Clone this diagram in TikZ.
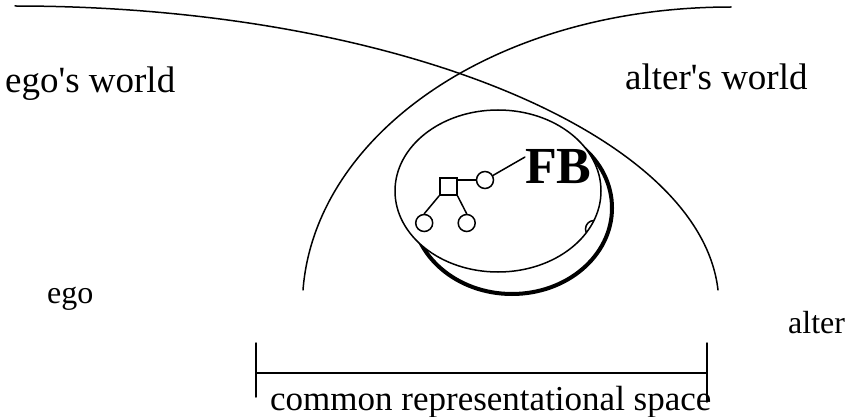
\documentclass[tikz,border=0pt]{standalone}
\usepackage{fontspec}
\setmainfont{Liberation Serif}
\begin{document}
\begin{tikzpicture}[x=1pt,y=-1pt,
  line/.style={line width=1.5pt, line cap=round},
  worldlabel/.style={font=\fontsize{37}{40}\selectfont, inner sep=0pt, anchor=base west},
  personlabel/.style={font=\fontsize{32}{36}\selectfont, inner sep=0pt, anchor=base west},
  spacelabel/.style={font=\fontsize{35}{38}\selectfont, inner sep=0pt, anchor=base west},
  male/.style={draw, line width=1.5pt, rectangle, minimum size=17pt, inner sep=0pt},
  female/.style={draw, line width=1.5pt, circle, minimum size=17pt, inner sep=0pt},
  fblabel/.style={font=\fontsize{52}{56}\selectfont\bfseries, inner sep=0pt, anchor=base}
]
\useasboundingbox (0,0) rectangle (846,417);

% world arcs
\coordinate (egoA) at (15,6);
\coordinate (egoB) at (718,290);
\coordinate (altA) at (303,290);
\coordinate (altB) at (731,7);
\draw[line] (egoA) .. controls (390,6) and (700,132) .. (egoB);
\draw[line] (altA) .. controls (315,134) and (495,7) .. (altB);

% representations
\draw[line width=4pt] (512,208) ellipse [x radius=100pt, y radius=86pt];
\draw[line, fill=white] (498,191) ellipse [x radius=103pt, y radius=81pt];
\begin{scope}
  \clip (498,191) ellipse [x radius=103pt, y radius=81pt];
  \node[female] (hidden) at (594,229) {};
\end{scope}

% kin diagram
\node[male] (sq) at (448.3,186.7) {};
\node[female] (wife) at (485,180) {};
\node[female] (c1) at (424.2,223) {};
\node[female] (c2) at (466.7,223) {};
\node[fblabel] (FB) at (558.3,183) {FB};
\draw[line] (wife.west) -- (wife.west -| sq.east);
\draw[line] (wife) -- (FB.165);
\draw[line] (sq.south west) -- (c1.north);
\draw[line] (sq.south east) -- (c2.north);

% labels
\node[worldlabel] (egow) at (5,93) {ego\textquotesingle s world};
\node[worldlabel] (altw) at (625,90) {alter\textquotesingle s world};
\node[personlabel] (ego) at (47,303) {ego};
\node[personlabel] (alter) at (788,333) {alter};

% common space bracket
\coordinate (bl) at (256,373);
\coordinate (br) at (707,373);
\coordinate (blt) at (256,343);
\coordinate (blb) at (256,397);
\coordinate (brt) at (707,343);
\coordinate (brb) at (707,402);
\draw[line] (bl) -- (br);
\draw[line] (blt) -- (blb);
\draw[line] (brt) -- (brb);
\node[spacelabel] (common) at (270,410) {common representational space};
\end{tikzpicture}
\end{document}
